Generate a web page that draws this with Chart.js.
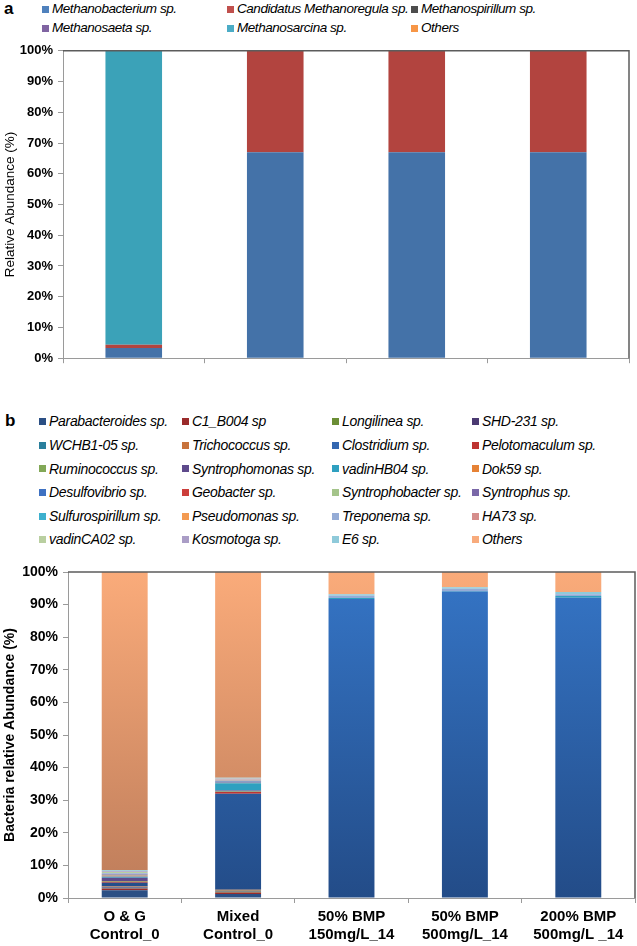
<!DOCTYPE html>
<html><head><meta charset="utf-8">
<script src="https://cdn.jsdelivr.net/npm/chart.js@4"></script>
<style>
html,body{margin:0;padding:0;background:#fff;}
body{width:637px;height:946px;position:relative;overflow:hidden;font-family:'Liberation Sans',Arial,sans-serif;color:#000;}
canvas{position:absolute;left:0;}
.plabel{position:absolute;font-weight:bold;font-size:17px;line-height:18px;}
.li{position:absolute;white-space:nowrap;font-style:italic;display:flex;align-items:center;}
.li i{display:inline-block;width:7px;height:7px;margin-right:3px;flex:none;}
</style></head><body>
<div class="plabel" style="left:4px;top:0px;">a</div>
<div id="legendA"></div>
<canvas id="chartA" width="637" height="333" style="top:38px"></canvas>
<div class="plabel" style="left:5px;top:412px;">b</div>
<div id="legendB"></div>
<canvas id="chartB" width="637" height="396" style="top:550px"></canvas>
<script>
// ---------- Panel a data ----------
const categoriesA = ['Sample 1', 'Sample 2', 'Sample 3', 'Sample 4'];
const namesA = ['Methanobacterium sp.', 'Candidatus Methanoregula sp.', 'Methanospirillum sp.',
  'Methanosaeta sp.', 'Methanosarcina sp.', 'Others'];
const methanobacterium = [3.3, 67, 67, 67];
const candidatusMethanoregula = [1.1, 33, 33, 33];
const methanospirillum = [0, 0, 0, 0];
const methanosaeta = [0, 0, 0, 0];
const methanosarcina = [95.6, 0, 0, 0];
const othersA = [0, 0, 0, 0];
const colorsA = ['#4472A8', '#B2443F', '#555555', '#7E62A0', '#3BA2B8', '#EF8C3E'];
const legendColorsA = ['#4F81BD', '#C0504D', '#4D4D4D', '#8064A2', '#4BACC6', '#F79646'];

// ---------- Panel b data ----------
const categoriesB = [['O & G', 'Control_0'], ['Mixed', 'Control_0'], ['50% BMP', '150mg/L_14'],
  ['50% BMP', '500mg/L_14'], ['200% BMP', '500mg/L _14']];
const namesB = ['Parabacteroides sp.', 'C1_B004 sp', 'Longilinea sp.', 'SHD-231 sp.',
  'WCHB1-05 sp.', 'Trichococcus sp.', 'Clostridium sp.', 'Pelotomaculum sp.',
  'Ruminococcus sp.', 'Syntrophomonas sp.', 'vadinHB04 sp.', 'Dok59 sp.',
  'Desulfovibrio sp.', 'Geobacter sp.', 'Syntrophobacter sp.', 'Syntrophus sp.',
  'Sulfurospirillum sp.', 'Pseudomonas sp.', 'Treponema sp.', 'HA73 sp.',
  'vadinCA02 sp.', 'Kosmotoga sp.', 'E6 sp.', 'Others'];
const parabacteroides = [2.4, 1.2, 0, 0, 0];
const c1b004 = [0.4, 0.5, 0, 0, 0];
const longilinea = [0.1, 0.2, 0, 0, 0];
const shd231 = [0.3, 0.2, 0, 0, 0];
const wchb105 = [0.2, 0.1, 0, 0, 0];
const trichococcus = [0.1, 0.3, 0, 0, 0];
const clostridium = [1.2, 29.5, 91.7, 94.0, 92.1];
const pelotomaculum = [0.3, 0.5, 0, 0, 0];
const ruminococcus = [0.2, 0.2, 0, 0, 0];
const syntrophomonas = [1.0, 0.3, 0, 0, 0];
const vadinHB04 = [0.3, 2.2, 0.3, 0.2, 0.5];
const dok59 = [0.1, 0.1, 0, 0, 0];
const desulfovibrio = [0.1, 0.1, 0, 0, 0];
const geobacter = [0.1, 0.1, 0, 0, 0];
const syntrophobacter = [0.2, 0.1, 0, 0, 0];
const syntrophus = [0.2, 0.1, 0, 0, 0];
const sulfurospirillum = [0.1, 0.2, 0, 0, 0];
const pseudomonas = [0.1, 0.1, 0, 0, 0];
const treponema = [0.2, 0.3, 0.7, 0.7, 0.6];
const ha73 = [0.1, 0.1, 0, 0, 0];
const vadinCA02 = [0.3, 0.2, 0, 0, 0];
const kosmotoga = [0.2, 0.1, 0, 0, 0];
const e6 = [0.3, 0.2, 0.5, 0.4, 0.7];
const othersB = [91.5, 63.1, 6.8, 4.7, 6.1];
const colorsB = ['#2B4F84', '#9A2B2B', '#6B8E35', '#4B3A72', '#2A7F9C', '#C8733C', '#3467B0',
  '#BE3431', '#82A857', '#5E4A8C', '#2FA0C0', '#E68235', '#3E71C2', '#CC3E3B', '#A4C48A',
  '#7A68A8', '#3DB0CE', '#F39A51', '#95ACD6', '#D58E8C', '#B9CFA0', '#AA9DC6', '#8FCADA', '#F8AB7C'];
// vertical shading (top, bottom) for the two large series
const shadeB = { 6: ['#3575C6', '#234C88'], 23: ['#FAAB7A', '#BD7C5A'] };

const tickValuesY = [0, 10, 20, 30, 40, 50, 60, 70, 80, 90, 100];

const FONT = "'Liberation Sans', Arial, sans-serif";

const framePlugin = {
  id: 'frame',
  afterDatasetsDraw(chart) {
    const { ctx, chartArea: a } = chart;
    ctx.save();
    ctx.strokeStyle = '#5c5c5c';
    ctx.lineWidth = 1.5;
    ctx.beginPath();
    ctx.moveTo(a.left, a.top);
    ctx.lineTo(a.right, a.top);
    ctx.lineTo(a.right, a.bottom);
    ctx.stroke();
    ctx.restore();
  }
};

function makeChart(id, labels, datasets, o) {
  return new Chart(document.getElementById(id), {
    type: 'bar',
    data: { labels, datasets },
    options: {
      responsive: false, animation: false, devicePixelRatio: 1,
      layout: { padding: o.padding },
      plugins: { legend: { display: false }, tooltip: { enabled: false } },
      datasets: { bar: { categoryPercentage: 1, barPercentage: o.barPct, borderWidth: 0 } },
      scales: {
        x: {
          stacked: true,
          grid: { display: true, drawOnChartArea: false, drawTicks: true, tickLength: 5, color: '#9a9a9a', offset: true },
          border: { display: true, color: '#9a9a9a', width: 1 },
          ticks: { display: o.xLabels, color: '#000', maxRotation: 0, autoSkip: false, padding: 4,
            font: { family: FONT, size: 15, weight: 'bold', lineHeight: 1.25 } },
          afterFit: s => { s.height = o.xHeight; }
        },
        y: {
          stacked: true, min: 0, max: 100,
          afterBuildTicks: s => { s.ticks = tickValuesY.map(v => ({ value: v })); },
          grid: { display: true, drawOnChartArea: false, drawTicks: true, tickLength: 5, color: '#9a9a9a' },
          border: { display: true, color: '#9a9a9a', width: 1 },
          ticks: { color: '#000', padding: 5, callback: v => v + '%',
            font: { family: FONT, size: o.yTickSize, weight: 'bold' } },
          title: { display: true, text: o.yTitle, color: '#000', padding: { top: o.titlePad, bottom: 0 },
            font: { family: FONT, size: o.yTitleSize, weight: o.yTitleWeight } },
          afterFit: s => { s.width = o.yWidth; }
        }
      }
    },
    plugins: [framePlugin]
  });
}

// ---------- Build panel a ----------
const seriesA = [methanobacterium, candidatusMethanoregula, methanospirillum, methanosaeta, methanosarcina, othersA];
const chartA = makeChart('chartA', categoriesA,
  seriesA.map((d, i) => ({ label: namesA[i], data: d, backgroundColor: colorsA[i] })),
  { padding: { top: 11, bottom: 1, left: 0, right: 8 }, barPct: 0.4, xLabels: false, xHeight: 9,
    yTickSize: 13, yTitle: 'Relative Abundance (%)', yTitleSize: 13.5, yTitleWeight: 'normal',
    titlePad: 2, yWidth: 63 });

// ---------- Build panel b ----------
const seriesB = [parabacteroides, c1b004, longilinea, shd231, wchb105, trichococcus, clostridium,
  pelotomaculum, ruminococcus, syntrophomonas, vadinHB04, dok59, desulfovibrio, geobacter,
  syntrophobacter, syntrophus, sulfurospirillum, pseudomonas, treponema, ha73, vadinCA02,
  kosmotoga, e6, othersB];
const chartB = makeChart('chartB', categoriesB,
  seriesB.map((d, i) => ({
    label: namesB[i], data: d,
    backgroundColor: shadeB[i] ? (ctx => {
      const a = ctx.chart.chartArea;
      if (!a) return colorsB[i];
      const g = ctx.chart.ctx.createLinearGradient(0, a.top, 0, a.bottom);
      g.addColorStop(0, shadeB[i][0]); g.addColorStop(1, shadeB[i][1]);
      return g;
    }) : colorsB[i]
  })),
  { padding: { top: 22, bottom: 0, left: 0, right: 2 }, barPct: 0.405, xLabels: true, xHeight: 48,
    yTickSize: 14, yTitle: 'Bacteria relative Abundance (%)', yTitleSize: 14, yTitleWeight: 'bold',
    titlePad: 1.5, yWidth: 68 });

// ---------- HTML legends built from the charts' datasets ----------
function buildLegend(el, chart, legendColors, cols, rows, fontSize, lh, ls) {
  chart.data.datasets.forEach((ds, i) => {
    const r = Math.floor(i / cols.length), c = i % cols.length;
    const d = document.createElement('div');
    d.className = 'li';
    d.style.left = cols[c] + 'px';
    d.style.top = (rows[r] - lh / 2) + 'px';
    d.style.fontSize = fontSize + 'px';
    d.style.lineHeight = lh + 'px';
    d.style.letterSpacing = ls + 'px';
    const m = document.createElement('i');
    m.style.background = legendColors[i];
    d.appendChild(m);
    d.appendChild(document.createTextNode(ds.label));
    el.appendChild(d);
  });
}
buildLegend(document.getElementById('legendA'), chartA, legendColorsA, [42, 227, 411], [9, 28], 13.5, 16, -0.45);
buildLegend(document.getElementById('legendB'), chartB, colorsB, [39, 182, 332, 472],
  [421, 445, 468.5, 492, 516, 539], 14, 18, -0.3);
</script>
</body></html>
